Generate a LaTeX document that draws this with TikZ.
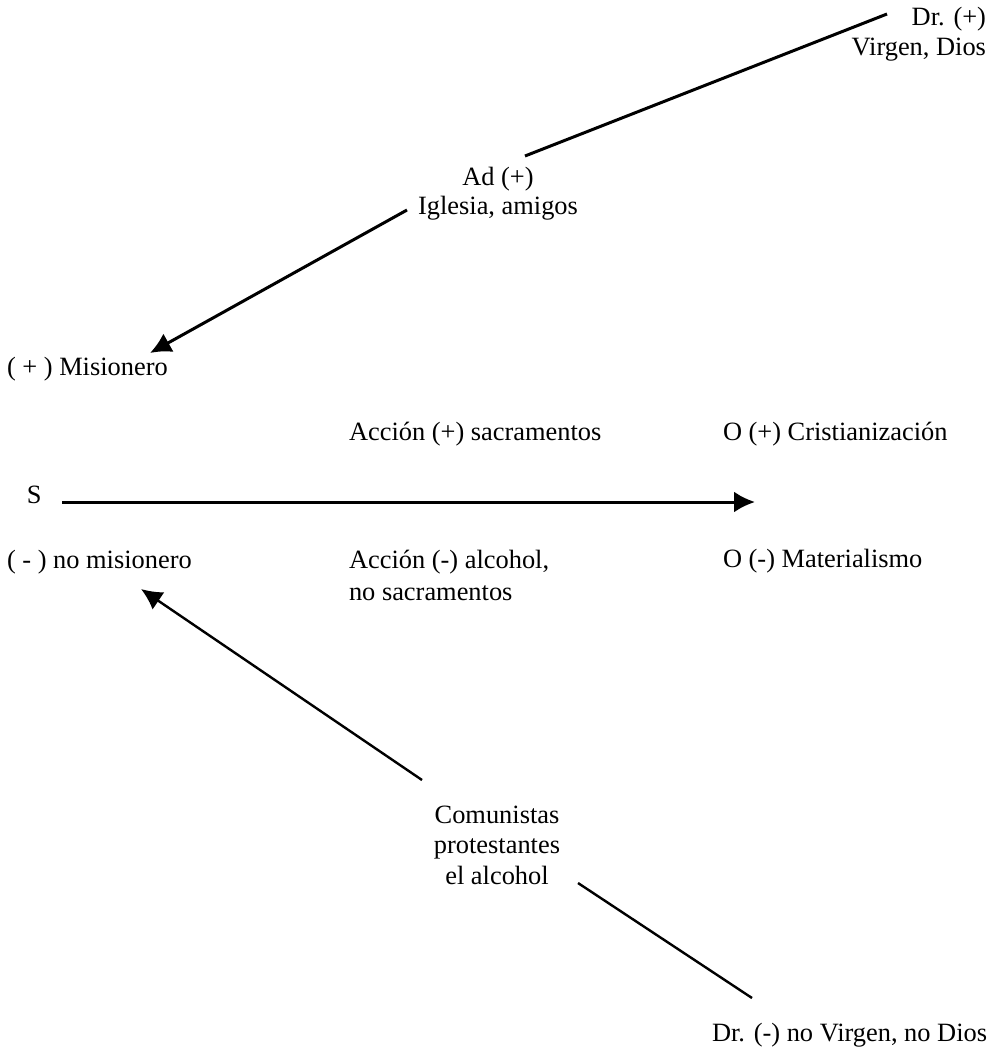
\documentclass[tikz,border=0pt]{standalone}
\usepackage{fontspec}
\setmainfont{Liberation Serif}
\usetikzlibrary{arrows.meta}
\tikzset{
  lbl/.style={inner sep=0pt, outer sep=0pt, font=\fontsize{26.4}{30.5}\selectfont},
  conn/.style={line width=3pt, line cap=butt},
  thinconn/.style={conn, line width=2.4pt},
  tip/.style={-{Latex[length=21pt,width=21pt]}}
}
\begin{document}
\begin{tikzpicture}[x=1pt,y=-1pt]
\useasboundingbox (0,0) rectangle (998,1055);
% texts
\node[lbl, anchor=base east] (drp1) at (986,25) {Dr. (+)};
\node[lbl, anchor=base east] (drp2) at (986,55) {Virgen, Dios};
\node[lbl, anchor=base] (ad1) at (498,185) {Ad (+)};
\node[lbl, anchor=base] (ad2) at (498,214) {Iglesia, amigos};
\node[lbl, anchor=base west] (mis) at (7,375) {( + ) Misionero};
\node[lbl, anchor=base west] (accp) at (349,440) {Acción (+) sacramentos};
\node[lbl, anchor=base west] (op) at (723,440) {O (+) Cristianización};
\node[lbl, anchor=base west] (s) at (27,503) {S};
\node[lbl, anchor=base west] (nomis) at (7,568) {( - ) no misionero};
\node[lbl, anchor=base west] (accm1) at (349,568) {Acción (-) alcohol,};
\node[lbl, anchor=base west] (accm2) at (349,600) {no sacramentos};
\node[lbl, anchor=base west] (om) at (723,567) {O (-) Materialismo};
\node[lbl, anchor=base] (com1) at (497,823) {Comunistas};
\node[lbl, anchor=base] (com2) at (497,853) {protestantes};
\node[lbl, anchor=base] (com3) at (497,884) {el alcohol};
\node[lbl, anchor=base west] (drm) at (712,1041) {Dr. (-) no Virgen, no Dios};
% connector ends
\coordinate (c1a) at (887,14);
\coordinate (c1b) at (525,156);
\coordinate (c2a) at (407,210);
\coordinate (c2b) at (150,353);
\coordinate (c3a) at (62,502);
\coordinate (c3b) at (755,502);
\coordinate (c4a) at (422,780);
\coordinate (c4b) at (141,589);
\coordinate (c5a) at (578,883);
\coordinate (c5b) at (752,998);
% connectors
\draw[conn] (c1a) -- (c1b);
\draw[conn, tip] (c2a) -- (c2b);
\draw[conn, tip] (c3a) -- (c3b);
\draw[thinconn, tip] (c4a) -- (c4b);
\draw[thinconn] (c5a) -- (c5b);
\end{tikzpicture}
\end{document}
